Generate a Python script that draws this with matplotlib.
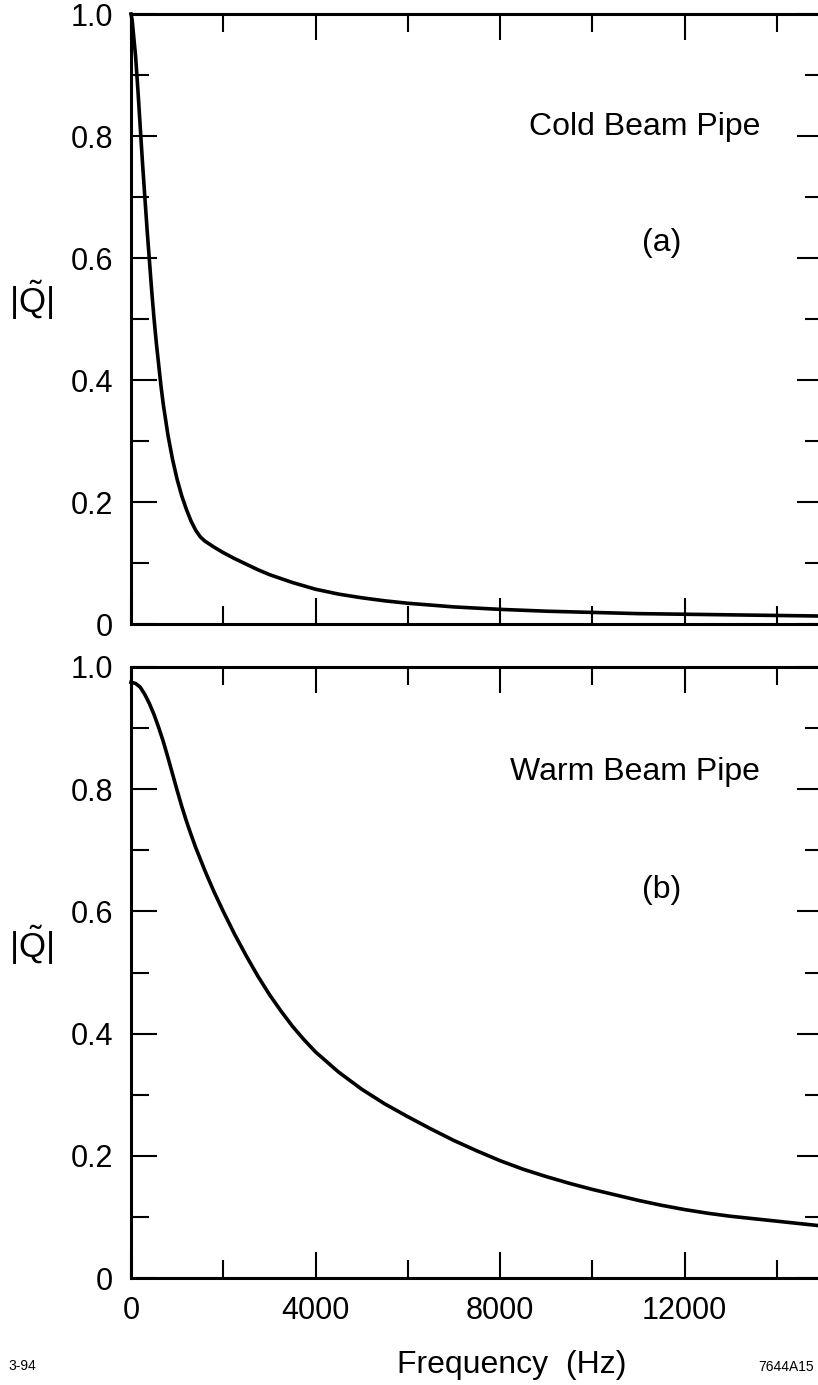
import matplotlib
matplotlib.use("Agg")
import matplotlib.pyplot as plt
from matplotlib.ticker import MultipleLocator, FixedLocator

plt.rcParams['font.family'] = ['Liberation Sans', 'DejaVu Sans']
plt.rcParams['mathtext.fontset'] = 'custom'
plt.rcParams['mathtext.rm'] = 'Liberation Sans'
plt.rcParams['mathtext.it'] = 'Liberation Sans'

# Data
cold_freq = [0, 25, 50, 100, 150, 200, 250, 300, 350, 400, 450, 500, 550, 600, 650, 700,
             750, 800, 900, 1000, 1100, 1200, 1300, 1400, 1500, 1600, 1700, 1800, 2000,
             2250, 2500, 2750, 3000, 3500, 4000, 4500, 5000, 5500, 6000, 7000, 8000,
             9000, 10000, 11000, 12000, 13000, 14000, 15000]
cold_q = [1.0, 0.99, 0.97, 0.93, 0.875, 0.815, 0.755, 0.70, 0.645, 0.595, 0.545, 0.50,
          0.46, 0.425, 0.39, 0.36, 0.335, 0.31, 0.27, 0.237, 0.21, 0.188, 0.169, 0.154,
          0.143, 0.136, 0.131, 0.126, 0.117, 0.107, 0.098, 0.089, 0.081, 0.068, 0.057,
          0.049, 0.043, 0.038, 0.034, 0.028, 0.024, 0.021, 0.019, 0.017, 0.016, 0.015,
          0.014, 0.013]

warm_freq = [0, 100, 200, 300, 400, 500, 600, 700, 800, 900, 1000, 1100, 1200, 1300,
             1400, 1500, 1600, 1800, 2000, 2250, 2500, 2750, 3000, 3250, 3500, 3750,
             4000, 4500, 5000, 5500, 6000, 6500, 7000, 7500, 8000, 8500, 9000, 9500,
             10000, 10500, 11000, 11500, 12000, 12500, 13000, 13500, 14000, 14500, 15000]
warm_q = [0.975, 0.973, 0.967, 0.955, 0.94, 0.922, 0.901, 0.878, 0.852, 0.825, 0.798,
          0.772, 0.748, 0.726, 0.705, 0.686, 0.667, 0.632, 0.60, 0.562, 0.527, 0.494,
          0.464, 0.437, 0.412, 0.39, 0.37, 0.337, 0.309, 0.285, 0.264, 0.244, 0.225,
          0.208, 0.192, 0.178, 0.166, 0.155, 0.145, 0.136, 0.127, 0.119, 0.112, 0.106,
          0.101, 0.097, 0.093, 0.089, 0.085]

panel_titles = ["Cold Beam Pipe", "Warm Beam Pipe"]
panel_letters = ["(a)", "(b)"]
x_ticks = [0, 4000, 8000, 12000]
x_ticklabels = ["0", "4000", "8000", "12000"]
y_ticks = [0, 0.2, 0.4, 0.6, 0.8, 1.0]
y_ticklabels = ["0", "0.2", "0.4", "0.6", "0.8", "1.0"]

W, H = 818, 1385
fig = plt.figure(figsize=(W / 100, H / 100), dpi=100)

def frac(left, top, right, bottom):
    return [left / W, 1 - bottom / H, (right - left) / W, (bottom - top) / H]

ax1 = fig.add_axes(frac(131, 14, 823, 624))
ax2 = fig.add_axes(frac(131, 667, 823, 1278))

series = [(cold_freq, cold_q), (warm_freq, warm_q)]

for i, ax in enumerate([ax1, ax2]):
    f, q = series[i]
    ax.plot(f, q, color='black', lw=2.6, solid_joinstyle='round', clip_on=False)
    ax.set_xlim(0, 15000)
    ax.set_ylim(0, 1.0)
    for s in ax.spines.values():
        s.set_linewidth(2.2)
    ax.xaxis.set_major_locator(FixedLocator(x_ticks))
    ax.xaxis.set_minor_locator(MultipleLocator(2000))
    ax.yaxis.set_major_locator(FixedLocator(y_ticks))
    ax.yaxis.set_minor_locator(MultipleLocator(0.1))
    ax.tick_params(which='both', direction='in', top=True, right=True, width=1.5,
                   labelsize=22, pad=13)
    ax.tick_params(which='major', length=19)
    ax.tick_params(which='minor', length=13)
    ax.set_yticklabels(y_ticklabels)
    if i == 0:
        ax.set_xticklabels([])
    else:
        ax.set_xticklabels(x_ticklabels)

# Panel texts placed in figure pixel coordinates
fig.text(760 / W, 1 - 127 / H, panel_titles[0], ha='right', va='center', fontsize=23)
fig.text(662 / W, 1 - 243 / H, panel_letters[0], ha='center', va='center', fontsize=23)
fig.text(760 / W, 1 - 772 / H, panel_titles[1], ha='right', va='center', fontsize=23)
fig.text(662 / W, 1 - 890 / H, panel_letters[1], ha='center', va='center', fontsize=23)

for yc in (300, 945):
    fig.text(31 / W, 1 - yc / H, r'$|\tilde{\mathrm{Q}}|$', ha='center', va='center', fontsize=25)

fig.text(512 / W, 1 - 1365 / H, "Frequency  (Hz)", ha='center', va='center', fontsize=23)
fig.text(8 / W, 1 - 1366 / H, "3-94", ha='left', va='center', fontsize=10)
fig.text(758 / W, 1 - 1367 / H, "7644A15", ha='left', va='center', fontsize=10)

fig.savefig("out.png", dpi=100)
